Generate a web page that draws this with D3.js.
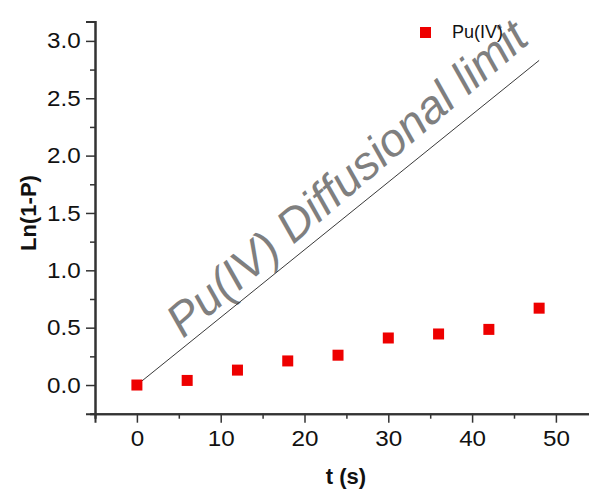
<!DOCTYPE html>
<html><head><meta charset="utf-8">
<script src="https://cdn.jsdelivr.net/npm/d3@7"></script>
<style>body{margin:0;background:#fff;} svg{display:block;font-family:"Liberation Sans",Arial,sans-serif;}</style>
</head><body>
<svg id="c" width="589" height="492"></svg>
<script>
const timeS = [0, 6, 12, 18, 24, 30, 36, 42, 48];
const lnValues = [0, 0.04, 0.13, 0.21, 0.26, 0.41, 0.445, 0.485, 0.67];
const limitT = [0, 48];
const limitLn = [0, 2.83];
const xMajor = [0, 10, 20, 30, 40, 50];
const xMinor = [-5, 5, 15, 25, 35, 45, 55];
const yMajor = [0, 0.5, 1.0, 1.5, 2.0, 2.5, 3.0];
const yMinor = [-0.25, 0.25, 0.75, 1.25, 1.75, 2.25, 2.75];
const seriesName = "Pu(IV)";
const annotation = "Pu(IV) Diffusional limit";

const svg = d3.select("#c");
const x = d3.scaleLinear().domain([-5, 55]).range([95, 597.8]);
const y = d3.scaleLinear().domain([-0.25, 3.17]).range([413.7, 21.4]);
const axisColor = "#333";

// annotation text
svg.append("text")
  .attr("transform", `translate(${183},${339}) rotate(${-40.5})`)
  .attr("font-size", 46.5).attr("font-style", "italic")
  .attr("fill", "#7f7f7f").text(annotation);

// limit line
const p0 = [x(limitT[0]), y(limitLn[0])], p1 = [x(limitT[1]), y(limitLn[1])];
svg.append("line")
  .attr("x1", p0[0]).attr("y1", p0[1]).attr("x2", p1[0]).attr("y2", p1[1])
  .attr("stroke", "#222").attr("stroke-width", 0.9);

// x axis
const gx = svg.append("g").attr("transform", `translate(0,${y(-0.25)})`);
gx.call(d3.axisBottom(x).tickValues(xMajor).tickSize(9).tickPadding(8).tickFormat(d3.format("d")));
gx.append("g").call(d3.axisBottom(x).tickValues(xMinor).tickSize(5).tickFormat(""));
gx.selectAll(".domain").attr("stroke", axisColor).attr("stroke-width", 2);
gx.selectAll("line").attr("stroke", axisColor).attr("stroke-width", 1.5);
gx.selectAll("text").attr("font-size", 22).attr("fill", "#111")
  .attr("font-family", "Liberation Sans, Arial, sans-serif").attr("transform", "scale(1.1,1)");

// y axis
const gy = svg.append("g").attr("transform", `translate(${x(-5)},0)`);
gy.call(d3.axisLeft(y).tickValues(yMajor).tickSize(9).tickPadding(4).tickFormat(d3.format(".1f")));
gy.append("g").call(d3.axisLeft(y).tickValues(yMinor).tickSize(5).tickFormat(""));
gy.selectAll(".domain").attr("stroke", axisColor).attr("stroke-width", 2);
gy.selectAll("line").attr("stroke", axisColor).attr("stroke-width", 1.5);
gy.selectAll("text").attr("font-size", 22).attr("fill", "#111")
  .attr("font-family", "Liberation Sans, Arial, sans-serif").attr("transform", "scale(1.1,1)");

// points
const ms = 11;
svg.append("g").selectAll("rect").data(timeS.map((t,i)=>[t, lnValues[i]])).join("rect")
  .attr("x", d => x(d[0]) - ms/2).attr("y", d => y(d[1]) - ms/2)
  .attr("width", ms).attr("height", ms).attr("fill", "#ee0000");

// legend
svg.append("rect").attr("x", 420).attr("y", 27).attr("width", 11).attr("height", 11).attr("fill", "#ee0000");
svg.append("text").attr("x", 452).attr("y", 38).attr("font-size", 18).attr("fill", "#111").text(seriesName);

// axis titles
svg.append("text").attr("x", 346).attr("y", 484).attr("text-anchor", "middle")
  .attr("font-size", 22).attr("font-weight", "bold").attr("fill", "#111").text("t (s)");
svg.append("text").attr("transform", "translate(36,213) rotate(-90)").attr("text-anchor", "middle")
  .attr("font-size", 22).attr("font-weight", "bold").attr("fill", "#111").text("Ln(1-P)");
</script>
</body></html>
